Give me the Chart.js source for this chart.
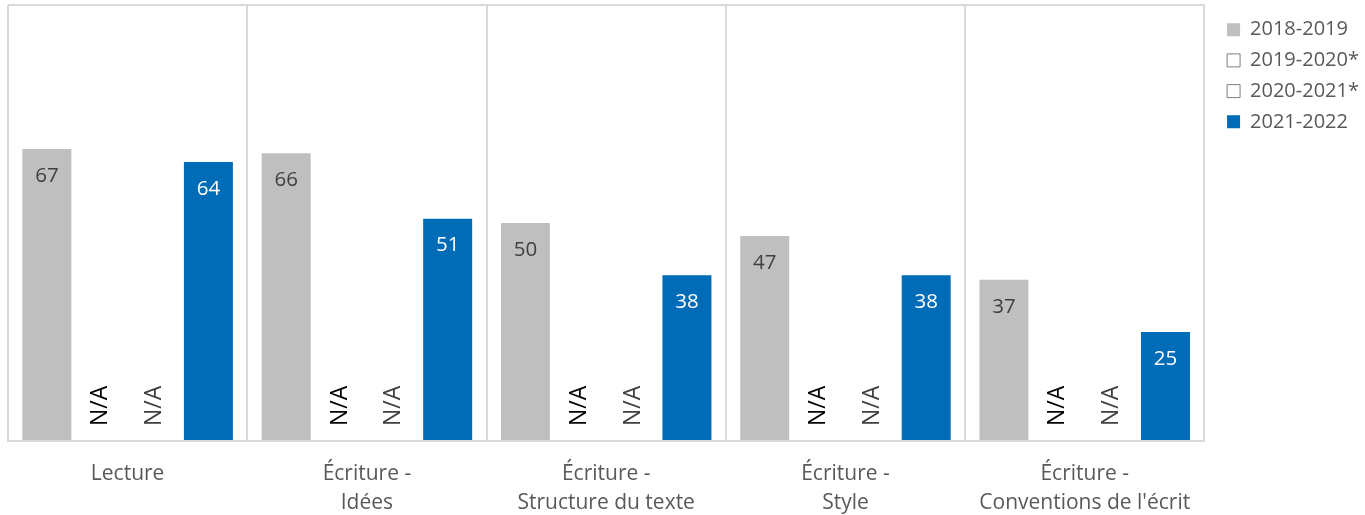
<!DOCTYPE html>
<html>
<head>
<meta charset="utf-8">
<script src="https://cdn.jsdelivr.net/npm/chart.js@4"></script>
<style>
  html, body { margin: 0; padding: 0; background: #ffffff; }
  #wrap { width: 1365px; height: 515px; position: relative; }
</style>
</head>
<body>
<div id="wrap"><canvas id="c"></canvas></div>
<script>
const categories = [
  ['Lecture'],
  ['Écriture -', 'Idées'],
  ['Écriture -', 'Structure du texte'],
  ['Écriture -', 'Style'],
  ['Écriture -', "Conventions de l'écrit"]
];
const seriesNames = ['2018-2019', '2019-2020*', '2020-2021*', '2021-2022'];
const values2018 = [67, 66, 50, 47, 37];
const values2019 = [null, null, null, null, null];
const values2020 = [null, null, null, null, null];
const values2021 = [64, 51, 38, 38, 25];
const naLabel = 'N/A';
const yTicks = [0, 100];

const FONT = '"Open Sans", "Noto Sans", sans-serif';

const labelPlugin = {
  id: 'barLabels',
  afterDatasetsDraw(chart) {
    const ctx = chart.ctx;
    const yScale = chart.scales.y;
    chart.data.datasets.forEach((ds, i) => {
      const meta = chart.getDatasetMeta(i);
      if (meta.hidden) return;
      meta.data.forEach((el, j) => {
        const v = ds.data[j];
        ctx.save();
        if (v === null || v === undefined) {
          ctx.font = '23px ' + FONT;
          ctx.fillStyle = ds.naColor;
          ctx.translate(el.x, yScale.getPixelForValue(0) - 15);
          ctx.rotate(-Math.PI / 2);
          ctx.textAlign = 'left';
          ctx.textBaseline = 'middle';
          ctx.fillText(naLabel, 0, 0);
        } else {
          ctx.font = '20.5px ' + FONT;
          ctx.fillStyle = ds.valueColor;
          ctx.textAlign = 'center';
          ctx.textBaseline = 'middle';
          ctx.fillText(String(v), el.x, el.y + 27);
        }
        ctx.restore();
      });
    });
  }
};

const chart = new Chart(document.getElementById('c'), {
  type: 'bar',
  data: {
    labels: categories,
    datasets: [
      { label: seriesNames[0], data: values2018, backgroundColor: '#bfbfbf', borderWidth: 0, valueColor: '#404040', naColor: '#000000' },
      { label: seriesNames[1], data: values2019, backgroundColor: '#ffffff', borderColor: '#7f7f7f', borderWidth: 1, valueColor: '#404040', naColor: '#000000' },
      { label: seriesNames[2], data: values2020, backgroundColor: '#ffffff', borderColor: '#7f7f7f', borderWidth: 1, valueColor: '#404040', naColor: '#404040' },
      { label: seriesNames[3], data: values2021, backgroundColor: '#006bb6', borderWidth: 0, valueColor: '#ffffff', naColor: '#404040' }
    ]
  },
  options: {
    responsive: true,
    maintainAspectRatio: false,
    animation: false,
    datasets: { bar: { categoryPercentage: 0.9, barPercentage: 0.91 } },
    layout: { padding: { left: 8, top: 5, right: -4, bottom: 0 } },
    plugins: {
      tooltip: { enabled: false },
      legend: {
        position: 'right',
        align: 'start',
        title: { display: true, text: ' ', padding: 0, font: { size: 4, lineHeight: 1 } },
        labels: {
          boxWidth: 13,
          boxHeight: 13,
          padding: 10.7,
          color: '#595959',
          font: { family: FONT, size: 20 }
        }
      }
    },
    scales: {
      x: {
        grid: { display: true, offset: true, color: '#d9d9d9', lineWidth: 2, drawTicks: false },
        border: { display: true, color: '#d9d9d9', width: 2 },
        ticks: { color: '#595959', font: { family: FONT, size: 21, lineHeight: 1.35 }, padding: 19, maxRotation: 0, autoSkip: false },
        afterFit: s => { s.height = 74; }
      },
      y: {
        min: yTicks[0],
        max: yTicks[1],
        afterBuildTicks: s => { s.ticks = yTicks.map(v => ({ value: v })); },
        grid: { display: true, drawTicks: false, lineWidth: 2, color: c => (c.tick && c.tick.value === yTicks[1]) ? '#d9d9d9' : 'rgba(0,0,0,0)' },
        border: { display: false },
        ticks: { display: false }
      },
      yGap: {
        position: 'right',
        display: true,
        grid: { display: false, drawTicks: false },
        border: { display: false },
        ticks: { display: false },
        afterFit: s => { s.width = 12; }
      }
    }
  },
  plugins: [labelPlugin]
});
</script>
</body>
</html>
